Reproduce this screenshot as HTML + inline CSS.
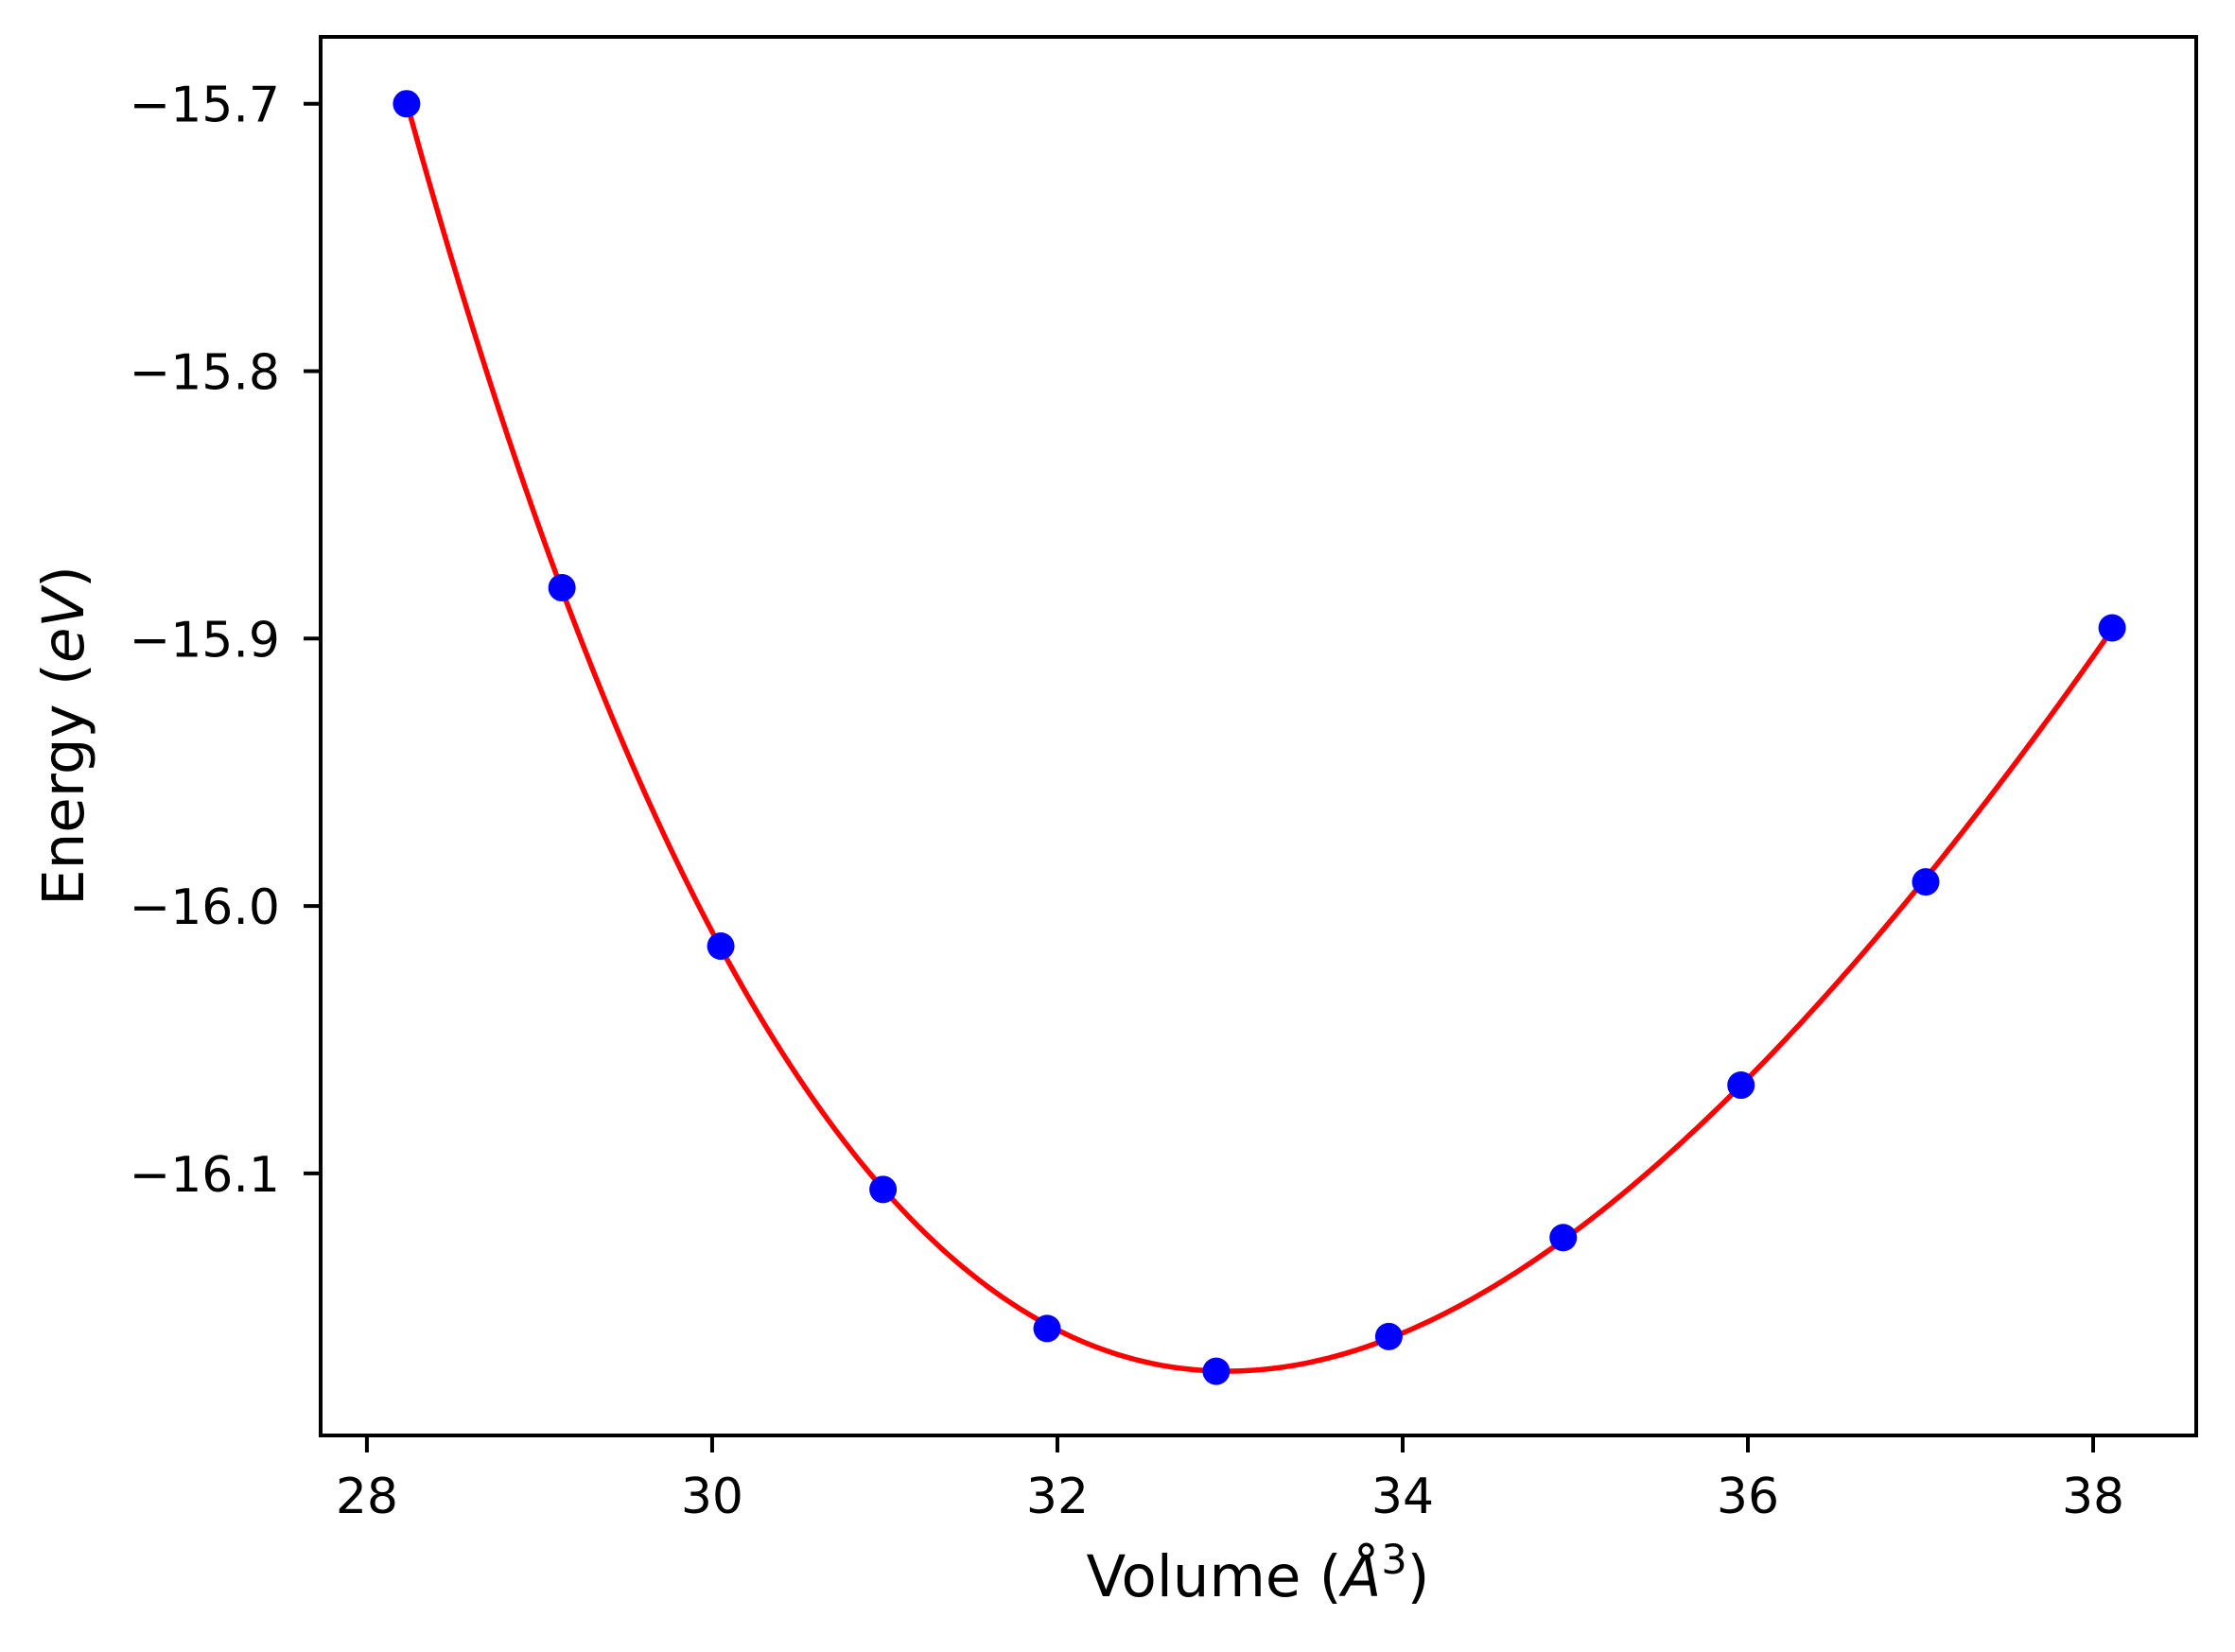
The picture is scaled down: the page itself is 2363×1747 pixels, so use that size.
<!DOCTYPE html>
<html><head><meta charset="utf-8"><style>
html,body{margin:0;padding:0;background:#fff;}
svg{display:block;font-family:"DejaVu Sans","Liberation Sans",sans-serif;}
</style></head><body>
<svg id="chart" width="2363" height="1747" viewBox="0 0 2363 1747" xmlns="http://www.w3.org/2000/svg">
<rect width="2363" height="1747" fill="#fff"/>
<g id="plot"></g>
<g id="axes"></g>
<text x="1330" y="1688" font-size="61" text-anchor="middle">Volume (<tspan font-style="italic">Å</tspan><tspan font-size="43" dy="-24">3</tspan><tspan dy="24">)</tspan></text>
<text transform="translate(88,778) rotate(-90)" font-size="61" text-anchor="middle">Energy (<tspan font-style="italic">eV</tspan>)</text>
</svg>
<script>
const volumes = [28.23, 29.13, 30.05, 30.99, 31.94, 32.92, 33.92, 34.93, 35.96, 37.03, 38.11];
const energies = [-15.700, -15.881, -16.015, -16.106, -16.158, -16.174, -16.161, -16.124, -16.067, -15.991, -15.896];
const xTicks = [28, 30, 32, 34, 36, 38];
const yTicks = [-15.7, -15.8, -15.9, -16.0, -16.1];
const yTickLabels = ["\u221215.7", "\u221215.8", "\u221215.9", "\u221216.0", "\u221216.1"];

const L = 339, R = 2322, T = 39, B = 1518;
const xMin = 27.732, xMax = 38.597, yMin = -16.198, yMax = -15.675;
const sx = v => L + (v - xMin) / (xMax - xMin) * (R - L);
const sy = v => B - (v - yMin) / (yMax - yMin) * (B - T);
const NS = "http://www.w3.org/2000/svg";
const plot = document.getElementById('plot');
const axes = document.getElementById('axes');
function mk(tag, attrs, parent) {
  const e = document.createElementNS(NS, tag);
  for (const k in attrs) e.setAttribute(k, attrs[k]);
  parent.appendChild(e);
  return e;
}

// cubic least-squares fit of energies vs volume
function fit(xs, ys, deg) {
  const n = deg + 1;
  const A = Array.from({length: n}, () => new Array(n + 1).fill(0));
  const x0 = xs.reduce((a, b) => a + b, 0) / xs.length;
  for (let i = 0; i < xs.length; i++) {
    const t = xs[i] - x0;
    for (let r = 0; r < n; r++) {
      for (let c = 0; c < n; c++) A[r][c] += Math.pow(t, r + c);
      A[r][n] += ys[i] * Math.pow(t, r);
    }
  }
  for (let i = 0; i < n; i++) {
    let p = i;
    for (let k = i + 1; k < n; k++) if (Math.abs(A[k][i]) > Math.abs(A[p][i])) p = k;
    [A[i], A[p]] = [A[p], A[i]];
    for (let k = 0; k < n; k++) if (k !== i) {
      const f = A[k][i] / A[i][i];
      for (let c = i; c <= n; c++) A[k][c] -= f * A[i][c];
    }
  }
  const coef = A.map((row, i) => row[n] / row[i]);
  return v => coef.reduce((s, c, i) => s + c * Math.pow(v - x0, i), 0);
}
const f = fit(volumes, energies, 4);
const vLo = volumes[0], vHi = volumes[volumes.length - 1];
let d = '';
for (let i = 0; i <= 300; i++) {
  const v = vLo + (vHi - vLo) * i / 300;
  d += (i ? 'L' : 'M') + sx(v).toFixed(2) + ',' + sy(f(v)).toFixed(2);
}
const fitLine = mk('path', {d: d, fill: 'none', stroke: '#ff0000', 'stroke-width': 5.5, 'stroke-linejoin': 'round'}, plot);



volumes.forEach((v, i) => {
  const c = mk('circle', {cx: sx(v), cy: sy(energies[i]), r: 14.5, fill: '#0000ff'}, plot);
  
  
});

const frame = mk('rect', {x: L, y: T, width: R - L, height: B - T, fill: 'none', stroke: '#000', 'stroke-width': 4}, axes);



xTicks.forEach(t => {
  const x = sx(t);
  const tk = mk('line', {x1: x, x2: x, y1: B, y2: B + 18, stroke: '#000', 'stroke-width': 4}, axes);
  
  
  const tx = mk('text', {x: x, y: 1600, 'font-size': 52, 'text-anchor': 'middle'}, axes);
  tx.textContent = String(t);
  
  
});
yTicks.forEach((t, i) => {
  const y = sy(t);
  const tk = mk('line', {x1: L - 18, x2: L, y1: y, y2: y, stroke: '#000', 'stroke-width': 4}, axes);
  
  
  const tx = mk('text', {x: 296, y: y + 19, 'font-size': 52, 'text-anchor': 'end'}, axes);
  tx.textContent = yTickLabels[i];
  
  
});
</script>
</body></html>
